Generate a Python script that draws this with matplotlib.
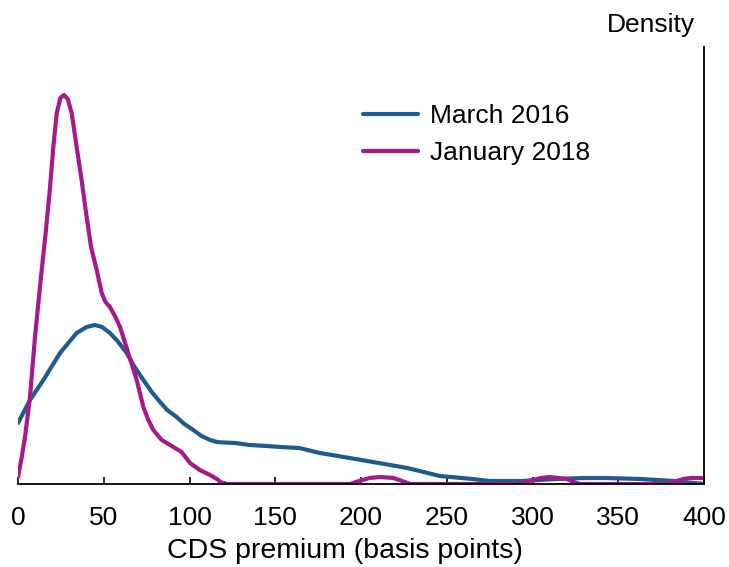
import numpy as np
import matplotlib.pyplot as plt

plt.rcParams['font.family'] = ['Liberation Sans', 'DejaVu Sans']

# CDS premium (basis points) vs density (arbitrary units)
x_mar16 = [0, 7, 14.8, 24.5, 34.2, 40, 44.9, 49, 53.6, 58, 63.4, 68, 73.1,
           78, 82.8, 87, 92.5, 97, 102.2, 107, 112, 116, 120, 126.5, 135, 145,
           153, 164, 176, 190, 207, 227, 246, 265, 275, 294, 314,
           330, 343, 363, 382, 400]
y_mar16 = [61, 84, 104, 131, 151, 157, 159, 157, 151, 143, 131, 117, 104,
           92, 82, 74, 67, 60, 54, 48, 44, 42, 41.5, 41, 39, 38,
           37, 36, 31, 27, 22, 16, 8, 5, 3, 3, 5,
           6, 6, 5, 3, 0]

x_jan18 = [0, 2, 4.1, 7, 9.9, 12.8, 14.2, 16.3, 18.7, 20.6, 22.6, 24.7, 26.8,
           29, 31.3, 34.2, 37.1, 39.7, 42.6, 45.9, 48.8, 51, 53.6, 56.5, 59.5,
           64.3, 69.2, 73.1, 76, 78.9, 83.8, 90.6, 95.4, 100.3, 106, 112,
           116, 118, 122, 193.6, 199, 205, 211, 219, 224,
           228.6, 292.7, 296, 300, 305, 310, 315, 320, 324, 327.7, 378,
           381, 384, 388, 392, 396, 400]
y_jan18 = [7, 25, 47, 87, 147, 197, 220, 254, 297, 337, 371, 386, 389,
           385, 371, 337, 304, 271, 237, 214, 191, 182, 177, 168, 157,
           131, 104, 77, 64, 54, 44, 37, 32, 21, 14, 9,
           5, 2, 0, 0, 3, 6, 7, 6, 3,
           0, 0, 2, 4, 6, 7, 6, 5, 2, 0, 0,
           1.5, 3, 5, 6, 6, 6]

xticks = [0, 50, 100, 150, 200, 250, 300, 350, 400]

fig = plt.figure(figsize=(7.29, 5.67), dpi=100)
ax = fig.add_axes([18 / 729, 1 - 484 / 567, 686 / 729, 437 / 567])

ax.plot(x_mar16, y_mar16, color='#1f5b8c', lw=3, label='March 2016',
        solid_capstyle='round', solid_joinstyle='round')
ax.plot(x_jan18, y_jan18, color='#a6198a', lw=3, label='January 2018',
        solid_capstyle='round', solid_joinstyle='round')

ax.set_xlim(0, 400)
ax.set_ylim(0, 437)
ax.set_xticks(xticks)
ax.set_yticks([])
ax.tick_params(axis='x', direction='in', length=5, width=1.2,
               labelsize=19, pad=16)
for s in ['left', 'top']:
    ax.spines[s].set_visible(False)
ax.spines['bottom'].set_linewidth(1.3)
ax.spines['right'].set_linewidth(1.3)

fig.text(345 / 729, 1 - 558 / 567, 'CDS premium (basis points)', fontsize=20.5,
         ha='center', va='baseline')
fig.text(651 / 729, 1 - 32 / 567, 'Density', fontsize=19,
         ha='center', va='baseline')

leg = ax.legend(loc='upper left', bbox_to_anchor=(0.503, 0.870), frameon=False,
                fontsize=19, handlelength=2.1, handletextpad=0.45,
                labelspacing=0.5, borderaxespad=0, borderpad=0)

fig.savefig('out.png', dpi=100)
